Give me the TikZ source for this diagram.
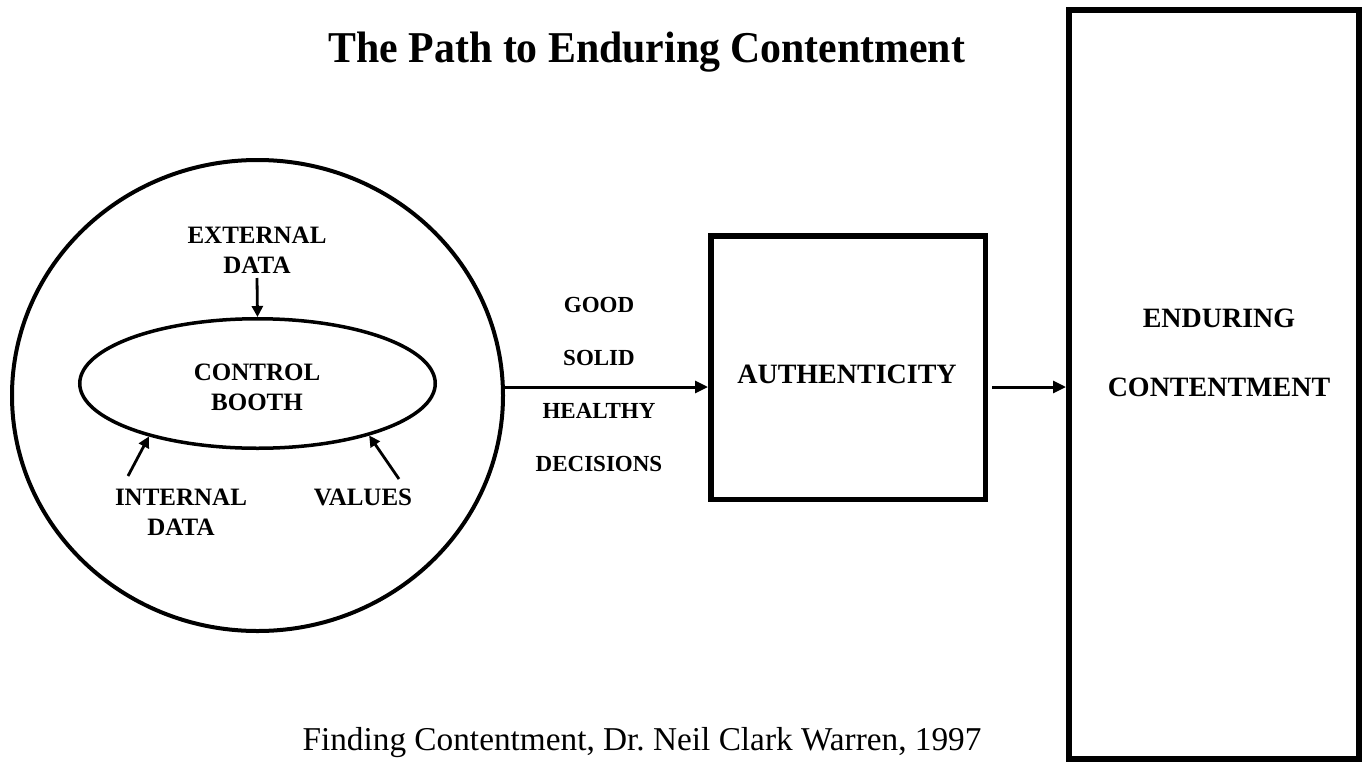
\documentclass[tikz,border=0pt]{standalone}
\usepackage{graphicx}
\usepackage{fontspec}
\setmainfont{Liberation Serif}
\usetikzlibrary{arrows.meta,shapes.geometric}
\begin{document}
\begin{tikzpicture}[x=1pt,y=-1pt,
  tag/.style={font=\fontsize{25}{30}\selectfont\bfseries,inner sep=0pt,anchor=base},
  word/.style={font=\fontsize{23}{28}\selectfont\bfseries,inner sep=0pt,anchor=base},
  boxlabel/.style={font=\fontsize{28}{34}\selectfont\bfseries,inner sep=0pt,anchor=base},
  flow/.style={line width=3pt,-{Triangle[length=13pt,width=12pt]}},
  feed/.style={line width=2.8pt,-{Triangle[length=11pt,width=11pt]}},
  frame/.style={draw,inner sep=0pt,rectangle}]
\useasboundingbox (0,0) rectangle (1363,763);

% title and source line
\node[font=\fontsize{44}{50}\selectfont\bfseries,inner sep=0pt,anchor=base] (title) at (647,62) {\scalebox{0.95}[1]{The Path to Enduring Contentment}};
\node[font=\fontsize{33.3}{38}\selectfont,inner sep=0pt,anchor=base] (source) at (642,750) {Finding Contentment, Dr.\ Neil Clark Warren, 1997};

% the person: outer circle with the control booth inside
\node[draw,ellipse,line width=4pt,inner sep=0pt,minimum width=491pt,minimum height=471pt] (circ) at (257.5,395.5) {};
\node[draw,ellipse,line width=3.5pt,inner sep=0pt,minimum width=355.5pt,minimum height=129.5pt] (booth) at (257.5,383.5) {};
\node[tag] (ctl1) at (257,380) {CONTROL};
\node[tag] (ctl2) at (257,410) {BOOTH};

\node[tag] (ext1) at (257,243) {EXTERNAL};
\node[tag] (ext2) at (257,273) {DATA};
\node[tag] (int1) at (181,505) {INTERNAL};
\node[tag] (int2) at (181,535) {DATA};
\node[tag] (val) at (363,505) {VALUES};

\coordinate (extfoot) at (257,278);
\coordinate (intfoot) at (128,476);
\coordinate (valfoot) at (399,479);
\draw[feed] (extfoot) -- (booth.north);
\draw[feed] (intfoot) -- (booth.206.7);
\draw[feed] (valfoot) -- (booth.335.2);

% authenticity and enduring contentment boxes
\node[frame,line width=5.5pt,minimum width=274.5pt,minimum height=263.5pt] (auth) at (848,367.5) {};
\node[boxlabel] (authtxt) at (847,383) {AUTHENTICITY};

\node[frame,line width=6pt,minimum width=290pt,minimum height=749pt] (big) at (1214,384.5) {};
\node[boxlabel] (end1) at (1219,327) {ENDURING};
\node[boxlabel] (end2) at (1219,396) {CONTENTMENT};

% decisions label on the first connector
\node[word] (w1) at (599,312) {GOOD};
\node[word] (w2) at (599,365) {SOLID};
\node[word] (w3) at (599,418) {HEALTHY};
\node[word] (w4) at (599,471) {DECISIONS};

\coordinate (lane) at (0,387);
\draw[flow] (circ.east |- lane) -- (auth.west |- lane);
\draw[flow] ([xshift=4pt]auth.east |- lane) -- (big.west |- lane);
\end{tikzpicture}
\end{document}
